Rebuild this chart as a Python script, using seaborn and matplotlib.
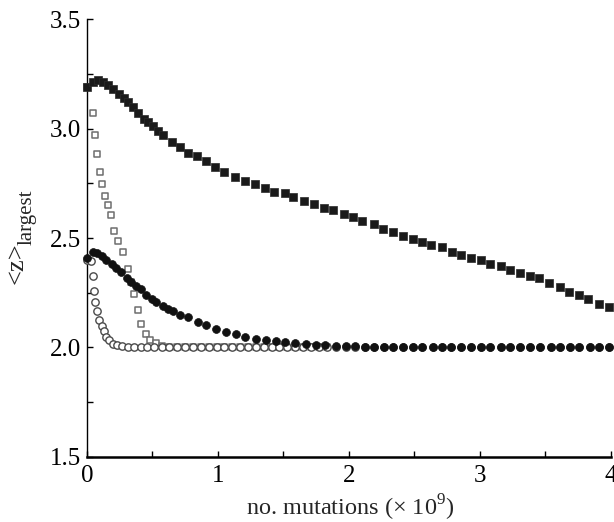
import matplotlib
matplotlib.use("Agg")
import matplotlib.pyplot as plt
import seaborn as sns
from matplotlib.ticker import MultipleLocator

# filled squares
fs_x = [0.0, 0.048, 0.086, 0.125, 0.163, 0.20, 0.244, 0.282, 0.315, 0.354, 0.39, 0.435, 0.468, 0.506,
        0.544, 0.583, 0.65, 0.71, 0.77, 0.84, 0.905, 0.977, 1.05, 1.13, 1.21, 1.28, 1.36, 1.43, 1.51,
        1.57, 1.66, 1.73, 1.81, 1.88, 1.96, 2.03, 2.10, 2.19, 2.26, 2.34, 2.41, 2.49, 2.56, 2.63, 2.71,
        2.79, 2.86, 2.93, 3.01, 3.08, 3.16, 3.23, 3.31, 3.38, 3.45, 3.53, 3.61, 3.68, 3.76, 3.83, 3.91, 3.99]
fs_y = [3.19, 3.215, 3.223, 3.215, 3.20, 3.18, 3.16, 3.14, 3.12, 3.10, 3.07, 3.045, 3.03, 3.01,
        2.99, 2.97, 2.94, 2.915, 2.89, 2.877, 2.853, 2.823, 2.80, 2.778, 2.762, 2.747, 2.727, 2.712, 2.706,
        2.687, 2.67, 2.657, 2.637, 2.627, 2.611, 2.596, 2.577, 2.563, 2.543, 2.526, 2.51, 2.495, 2.481, 2.466, 2.46,
        2.438, 2.421, 2.41, 2.398, 2.38, 2.372, 2.355, 2.342, 2.325, 2.318, 2.295, 2.278, 2.255, 2.238, 2.22, 2.20, 2.185]

# filled circles
fc_x = [0.0, 0.044, 0.076, 0.112, 0.145, 0.19, 0.22, 0.26, 0.305, 0.336, 0.374, 0.41, 0.45, 0.494, 0.53,
        0.578, 0.62, 0.66, 0.71, 0.77, 0.85, 0.91, 0.985, 1.06, 1.137, 1.21, 1.29, 1.366, 1.44, 1.51, 1.59,
        1.67, 1.75, 1.82, 1.90, 1.98, 2.05, 2.12, 2.19, 2.27, 2.34, 2.41, 2.49, 2.56, 2.64, 2.71, 2.78, 2.86,
        2.93, 3.01, 3.08, 3.16, 3.23, 3.31, 3.38, 3.46, 3.54, 3.61, 3.69, 3.76, 3.84, 3.91, 3.99]
fc_y = [2.41, 2.436, 2.433, 2.42, 2.40, 2.38, 2.364, 2.344, 2.318, 2.298, 2.28, 2.265, 2.24, 2.22, 2.206,
        2.188, 2.177, 2.165, 2.15, 2.138, 2.117, 2.104, 2.084, 2.07, 2.06, 2.046, 2.04, 2.033, 2.03, 2.025, 2.02,
        2.016, 2.012, 2.01, 2.008, 2.006, 2.005, 2.004, 2.003, 2.003, 2.002, 2.0, 2.0, 2.0, 2.0, 2.0, 2.0, 2.0,
        2.0, 2.0, 2.0, 2.0, 2.0, 2.0, 2.0, 2.0, 2.0, 2.0, 2.0, 2.0, 2.0, 2.0, 2.0]

# open squares
os_x = [0.0, 0.043, 0.061, 0.08, 0.10, 0.117, 0.137, 0.158, 0.18, 0.208, 0.24, 0.272, 0.31, 0.335,
        0.36, 0.387, 0.412, 0.45, 0.48, 0.527,
        0.57, 0.63, 0.69, 0.75, 0.81, 0.87, 0.93, 0.99, 1.05, 1.11, 1.17, 1.23, 1.29, 1.35, 1.41, 1.47,
        1.53, 1.59, 1.65, 1.71, 1.77, 1.83]
os_y = [3.19, 3.07, 2.97, 2.885, 2.80, 2.745, 2.693, 2.65, 2.605, 2.534, 2.486, 2.435, 2.36, 2.30,
        2.246, 2.173, 2.109, 2.059, 2.033, 2.018,
        2.008, 2.004, 2.002, 2.0, 2.0, 2.0, 2.0, 2.0, 2.0, 2.0, 2.0, 2.0, 2.0, 2.0, 2.0, 2.0,
        2.0, 2.0, 2.0, 2.0, 2.0, 2.0]

# open circles
oc_x = [0.0, 0.03, 0.043, 0.056, 0.064, 0.076, 0.094, 0.112, 0.127, 0.145, 0.17, 0.20,
        0.23, 0.27, 0.31, 0.36, 0.41, 0.46, 0.51,
        0.57, 0.63, 0.69, 0.75, 0.81, 0.87, 0.93, 0.99, 1.05, 1.11, 1.17, 1.23, 1.29, 1.35, 1.41, 1.47,
        1.53, 1.59, 1.65, 1.71, 1.77, 1.83,
        1.90, 1.98, 2.05, 2.12, 2.19, 2.27, 2.34, 2.41, 2.49, 2.56, 2.64, 2.71, 2.78, 2.86, 2.93, 3.01,
        3.08, 3.16, 3.23, 3.31, 3.38, 3.46, 3.54, 3.61, 3.69, 3.76, 3.84, 3.91, 3.99]
oc_y = [2.40, 2.395, 2.326, 2.26, 2.206, 2.165, 2.127, 2.096, 2.073, 2.048, 2.032, 2.017,
        2.01, 2.006, 2.003, 2.0, 2.0, 2.0, 2.0,
        2.0, 2.0, 2.0, 2.0, 2.0, 2.0, 2.0, 2.0, 2.0, 2.0, 2.0, 2.0, 2.0, 2.0, 2.0, 2.0,
        2.0, 2.0, 2.0, 2.0, 2.0, 2.0,
        2.0, 2.0, 2.0, 2.0, 2.0, 2.0, 2.0, 2.0, 2.0, 2.0, 2.0, 2.0, 2.0, 2.0, 2.0, 2.0,
        2.0, 2.0, 2.0, 2.0, 2.0, 2.0, 2.0, 2.0, 2.0, 2.0, 2.0, 2.0, 2.0]

sns.set_style("ticks")
plt.rcParams['font.family'] = ['Liberation Serif', 'DejaVu Serif']
plt.rcParams['mathtext.fontset'] = 'custom'
plt.rcParams['mathtext.rm'] = 'Liberation Serif'

fig = plt.figure(figsize=(6.14, 5.22), dpi=100)
ax = fig.add_axes([0.1417, 0.125, 0.853, 0.838])

sns.scatterplot(x=os_x, y=os_y, marker='s', s=24, color='white', edgecolor='#6e6e6e',
                linewidth=1.1, ax=ax, clip_on=False, zorder=2)
sns.scatterplot(x=oc_x, y=oc_y, marker='o', s=28, color='white', edgecolor='#4a4a4a',
                linewidth=1.0, ax=ax, clip_on=False, zorder=3)
sns.scatterplot(x=fc_x, y=fc_y, marker='o', s=32, color='#111111', edgecolor='#111111',
                linewidth=0.5, ax=ax, clip_on=False, zorder=4)
sns.scatterplot(x=fs_x, y=fs_y, marker='s', s=32, color='#1a1a1a', edgecolor='#2a2a2a',
                linewidth=0.5, ax=ax, clip_on=False, zorder=5)

ax.set_xlim(0, 4)
ax.set_ylim(1.5, 3.5)
ax.xaxis.set_major_locator(MultipleLocator(1))
ax.xaxis.set_minor_locator(MultipleLocator(0.5))
ax.yaxis.set_major_locator(MultipleLocator(0.5))
ax.yaxis.set_minor_locator(MultipleLocator(0.25))
ax.yaxis.set_major_formatter(matplotlib.ticker.FormatStrFormatter('%.1f'))
ax.tick_params(which='both', direction='in', length=4, width=1, colors='black', labelsize=18)
ax.tick_params(axis='x', pad=6)
ax.tick_params(axis='y', pad=4.5)

sns.despine(ax=ax)
ax.spines['left'].set_linewidth(1.0)
ax.spines['bottom'].set_linewidth(1.8)
ax.spines['left'].set_color('black')
ax.spines['bottom'].set_color('black')

# axis labels (y label is "<z>" with a large "largest" subscript)
fig.text(350 / 614, 1 - 516 / 522, 'no. mutations (\u00d7 10$^{9}$)', fontsize=17.5,
         ha='center', va='baseline')
fig.text(17 / 614, 1 - 263 / 522, '<z>', fontsize=19, rotation=90, ha='center', va='center')
fig.text(27 / 614, 1 - 217 / 522, 'largest', fontsize=15, rotation=90, ha='center', va='center')

fig.savefig('out.png', dpi=100)
